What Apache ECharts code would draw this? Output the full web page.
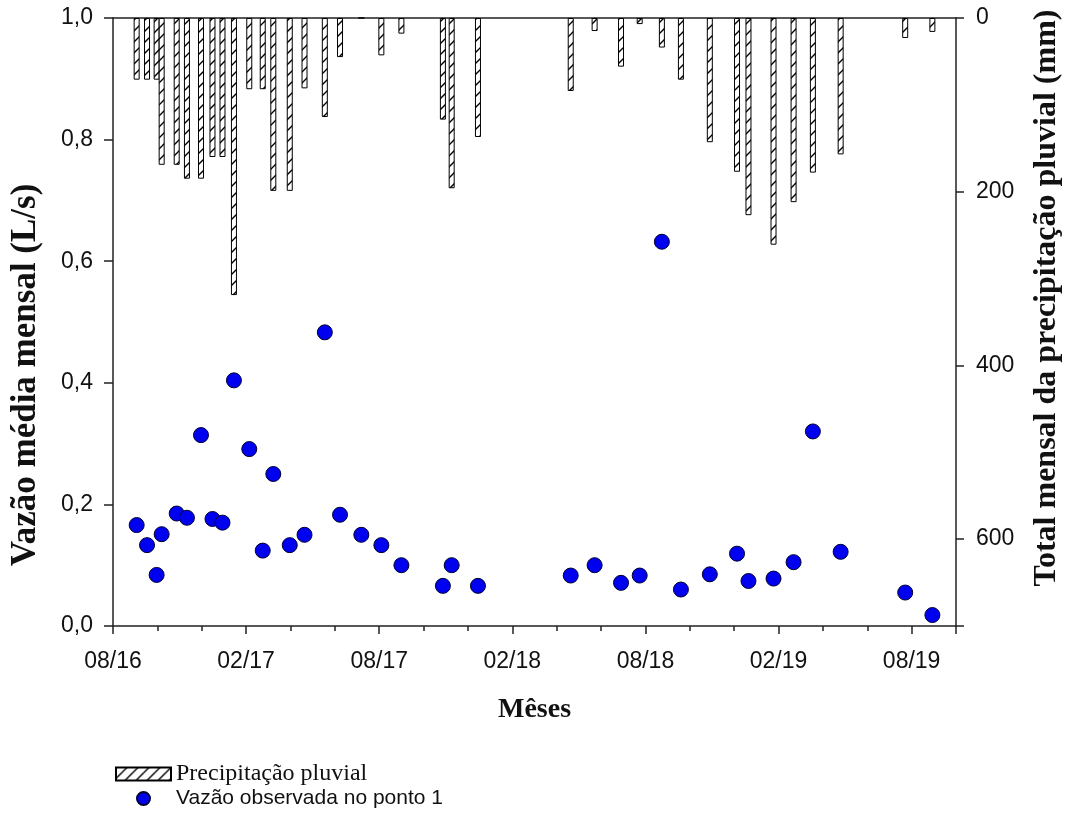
<!DOCTYPE html>
<html><head><meta charset="utf-8">
<script src="https://cdn.jsdelivr.net/npm/echarts@6/dist/echarts.min.js"></script>
<style>html,body{margin:0;padding:0;background:#fff}#c{width:1066px;height:816px}</style>
</head><body><div id="c"></div>
<script>
// Sampling dates (each carries one flow value and the rain total for that sample)
const sampleDates = [
  '2016-09-03','2016-09-17','2016-09-30','2016-10-07','2016-10-28','2016-11-11','2016-11-30',
  '2016-12-16','2016-12-30','2017-01-15','2017-02-05','2017-02-22','2017-03-08','2017-03-31',
  '2017-04-20','2017-05-18','2017-06-08','2017-07-07','2017-08-04','2017-09-01','2017-10-28',
  '2017-11-09','2017-12-15','2018-04-20','2018-05-23','2018-06-28','2018-07-24','2018-08-24',
  '2018-09-19','2018-10-29','2018-12-05','2018-12-21','2019-01-25','2019-02-20','2019-03-18',
  '2019-04-25','2019-07-23','2019-08-30'
];
// Vazão observada no ponto 1 (L/s)
const flowLs = [
  0.166,0.133,0.084,0.151,0.185,0.178,0.314,
  0.176,0.170,0.404,0.291,0.124,0.250,0.133,
  0.150,0.483,0.183,0.150,0.133,0.100,0.066,
  0.100,0.066,0.083,0.100,0.071,0.083,0.632,
  0.060,0.085,0.119,0.074,0.078,0.105,0.320,
  0.122,0.055,0.018
];
// Precipitação pluvial (mm)
const rainMm = [
  71,71,71,169,169,185,185,
  160,160,319,82,82,199,199,
  81,114,45,0,43,18,117,
  196,137,84,15,56,7,34,
  71,143,177,227,261,212,178,
  157,23,16
];
const xTickLabels = ['08/16','02/17','08/17','02/18','08/18','02/19','08/19'];
const leftTicks = [0, 0.2, 0.4, 0.6, 0.8, 1.0];
const rightTicks = [0, 200, 400, 600];

const START_Y = 2016, START_M = 8;
function monthIndex(s){
  const p = s.split('-').map(Number);
  const dim = new Date(p[0], p[1], 0).getDate();
  return (p[0]-START_Y)*12 + (p[1]-START_M) + (p[2]-1)/dim;
}
function hatch(){
  const n = 11;
  const c = document.createElement('canvas'); c.width = n; c.height = n;
  const g = c.getContext('2d');
  g.fillStyle = '#fff'; g.fillRect(0,0,n,n);
  g.strokeStyle = '#000'; g.lineWidth = 1.4;
  g.beginPath();
  g.moveTo(0,n); g.lineTo(n,0);
  g.moveTo(-2,2); g.lineTo(2,-2);
  g.moveTo(n-2,n+2); g.lineTo(n+2,n-2);
  g.stroke();
  return c;
}

const xs = sampleDates.map(monthIndex);
const axisColor = '#222';
const sans = 'Liberation Sans, Arial, sans-serif';
const serif = 'Liberation Serif, Times New Roman, serif';
const lineStyle = {color: axisColor, width: 1.5};

const chart = echarts.init(document.getElementById('c'), null, {renderer:'canvas'});
chart.setOption({
  backgroundColor: '#fff',
  animation: false,
  grid: {left: 113, right: 110, top: 18, bottom: 190, containLabel: false, outerBoundsMode: 'none'},
  xAxis: [
    {
      type: 'value', min: 0, max: 38, interval: 6, position: 'bottom',
      axisLine: {show: true, onZero: false, lineStyle: lineStyle},
      axisTick: {show: true, length: 8, lineStyle: lineStyle},
      axisLabel: {
        fontFamily: sans, fontSize: 23, color: '#111', margin: 24,
        formatter: v => (v % 6 === 0 && xTickLabels[v/6]) ? xTickLabels[v/6] : ''
      },
      splitLine: {show: false},
      name: 'Mêses', nameLocation: 'middle', nameGap: 70,
      nameTextStyle: {fontFamily: serif, fontWeight: 'bold', fontSize: 28, color: '#111'}
    },
    {
      type: 'value', min: 0, max: 38, interval: 2, position: 'bottom',
      axisLine: {show: false, onZero: false},
      axisTick: {show: true, length: 5, lineStyle: lineStyle},
      axisLabel: {show: false}, splitLine: {show: false}
    },
    {
      type: 'value', min: 0, max: 38, position: 'top',
      axisLine: {show: true, onZero: false, lineStyle: lineStyle},
      axisTick: {show: false}, axisLabel: {show: false}, splitLine: {show: false}
    }
  ],
  yAxis: [
    {
      type: 'value', min: 0, max: 1, interval: 0.2, position: 'left',
      axisLine: {show: true, onZero: false, lineStyle: lineStyle},
      axisTick: {show: true, length: 9, lineStyle: lineStyle},
      axisLabel: {fontFamily: sans, fontSize: 23, color: '#111', margin: 20,
        formatter: v => v.toFixed(1).replace('.', ',')},
      splitLine: {show: false},
      name: 'Vazão média mensal (L/s)', nameLocation: 'middle', nameGap: 70, nameRotate: 90,
      nameTextStyle: {fontFamily: serif, fontWeight: 'bold', fontSize: 35, color: '#111',
        padding: [0, 106, 0, 0]}
    },
    {
      type: 'value', min: 0, max: 700, interval: 200, inverse: true, position: 'right',
      axisLine: {show: true, onZero: false, lineStyle: lineStyle},
      axisTick: {show: true, length: 8, lineStyle: lineStyle},
      axisLabel: {fontFamily: sans, fontSize: 23, color: '#111', margin: 20,
        formatter: v => rightTicks.indexOf(v) >= 0 ? String(v) : ''},
      splitLine: {show: false},
      name: 'Total mensal da precipitação pluvial (mm)', nameLocation: 'middle', nameGap: 75, nameRotate: 90,
      nameTextStyle: {fontFamily: serif, fontWeight: 'bold', fontSize: 32, color: '#111',
        padding: [0, 0, 0, 48]}
    }
  ],
  legend: {
    orient: 'vertical', left: 110, top: 757, itemGap: 2, itemWidth: 55, itemHeight: 13,
    textStyle: {color: '#111'},
    data: [
      {name: 'Precipitação pluvial', icon: 'rect', textStyle: {fontFamily: serif, fontSize: 24}},
      {name: 'Vazão observada no ponto 1', icon: 'circle', textStyle: {fontFamily: sans, fontSize: 21}}
    ]
  },
  series: [
    {
      name: 'Precipitação pluvial', type: 'bar', xAxisIndex: 0, yAxisIndex: 1,
      barWidth: 6, z: 1,
      itemStyle: {color: {image: hatch(), repeat: 'repeat'}, borderColor: '#000', borderWidth: 1},
      data: xs.map((x, i) => [x, rainMm[i]])
    },
    {
      name: 'Vazão observada no ponto 1', type: 'scatter', xAxisIndex: 0, yAxisIndex: 0,
      symbol: 'circle', symbolSize: 15, z: 3,
      itemStyle: {color: '#0000f0', borderColor: '#000030', borderWidth: 1, opacity: 1},
      data: xs.map((x, i) => [x, flowLs[i]])
    }
  ]
});
</script></body></html>
